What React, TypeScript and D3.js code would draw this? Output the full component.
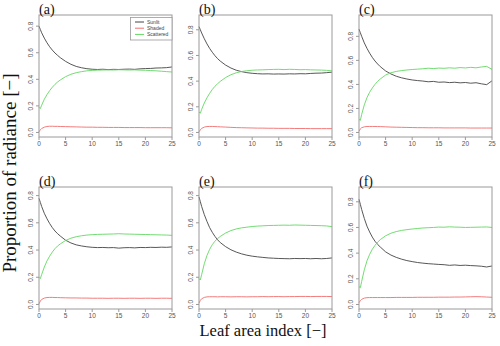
import React from "react";
import * as d3 from "d3";

const xs = [0, 0.25, 0.5, 1, 1.5, 2, 2.5, 3, 3.5, 4, 5, 6, 7, 8, 9, 10, 11, 12, 13, 14, 15, 16, 17, 18, 19, 20, 21, 22, 23, 24, 25];

const panelLabels = ["(a)", "(b)", "(c)", "(d)", "(e)", "(f)"];
const panelYMax = [0.85, 0.88, 0.94, 0.83, 0.83, 0.88];

const sunlitA = [0.80,0.775,0.75,0.71,0.675,0.645,0.62,0.598,0.58,0.563,0.535,0.513,0.497,0.487,0.48,0.476,0.474,0.476,0.473,0.475,0.474,0.476,0.477,0.475,0.479,0.481,0.482,0.485,0.486,0.488,0.493];
const scatteredA = [0.19,0.18,0.205,0.25,0.285,0.315,0.34,0.362,0.38,0.395,0.42,0.438,0.45,0.458,0.464,0.467,0.469,0.47,0.471,0.47,0.472,0.471,0.47,0.471,0.469,0.468,0.466,0.464,0.461,0.458,0.455];
const shadedA = [0.005,0.02,0.03,0.04,0.045,0.047,0.047,0.046,0.046,0.045,0.044,0.043,0.042,0.041,0.04,0.04,0.039,0.039,0.038,0.038,0.038,0.037,0.037,0.037,0.037,0.036,0.036,0.036,0.036,0.036,0.035];

const sunlitB = [0.825,0.80,0.775,0.73,0.69,0.655,0.625,0.598,0.575,0.556,0.525,0.502,0.485,0.474,0.466,0.461,0.458,0.456,0.457,0.455,0.456,0.455,0.457,0.456,0.458,0.457,0.46,0.462,0.463,0.466,0.47];
const scatteredB = [0.16,0.15,0.18,0.23,0.27,0.305,0.335,0.36,0.38,0.398,0.428,0.45,0.465,0.475,0.481,0.485,0.487,0.488,0.49,0.491,0.492,0.49,0.492,0.491,0.489,0.49,0.488,0.487,0.486,0.484,0.48];
const shadedB = [0.005,0.02,0.032,0.042,0.046,0.047,0.047,0.046,0.045,0.044,0.042,0.04,0.038,0.037,0.036,0.035,0.034,0.034,0.033,0.033,0.032,0.032,0.032,0.031,0.031,0.031,0.03,0.03,0.03,0.03,0.03];

const sunlitC = [0.86,0.83,0.80,0.745,0.70,0.66,0.625,0.595,0.57,0.548,0.512,0.487,0.468,0.455,0.445,0.437,0.432,0.428,0.422,0.425,0.418,0.42,0.415,0.418,0.413,0.416,0.41,0.414,0.405,0.398,0.43];
const scatteredC = [0.11,0.10,0.15,0.23,0.29,0.335,0.37,0.4,0.425,0.445,0.478,0.497,0.508,0.515,0.52,0.524,0.527,0.53,0.535,0.532,0.536,0.534,0.538,0.535,0.54,0.537,0.542,0.538,0.545,0.55,0.525];
const shadedC = [0.01,0.03,0.04,0.047,0.05,0.05,0.05,0.05,0.049,0.049,0.047,0.045,0.044,0.043,0.042,0.041,0.04,0.04,0.039,0.039,0.039,0.038,0.038,0.038,0.038,0.038,0.037,0.037,0.037,0.037,0.037];

const sunlitD = [0.78,0.75,0.72,0.67,0.63,0.595,0.565,0.54,0.52,0.503,0.472,0.452,0.438,0.43,0.424,0.42,0.418,0.419,0.417,0.418,0.414,0.417,0.418,0.416,0.419,0.418,0.42,0.419,0.421,0.42,0.423];
const scatteredD = [0.2,0.19,0.22,0.275,0.32,0.355,0.385,0.41,0.43,0.445,0.47,0.487,0.498,0.505,0.51,0.513,0.515,0.516,0.517,0.518,0.52,0.518,0.517,0.516,0.515,0.514,0.513,0.512,0.511,0.51,0.508];
const shadedD = [0.005,0.025,0.037,0.047,0.051,0.052,0.052,0.051,0.051,0.05,0.049,0.048,0.048,0.047,0.047,0.046,0.046,0.046,0.045,0.046,0.046,0.045,0.046,0.046,0.045,0.046,0.046,0.045,0.046,0.046,0.045];

const sunlitE = [0.79,0.755,0.72,0.66,0.61,0.565,0.53,0.5,0.475,0.455,0.425,0.402,0.385,0.372,0.362,0.355,0.35,0.346,0.342,0.34,0.338,0.337,0.336,0.338,0.337,0.338,0.336,0.338,0.336,0.338,0.342];
const scatteredE = [0.19,0.18,0.22,0.3,0.36,0.405,0.44,0.465,0.485,0.5,0.525,0.543,0.555,0.563,0.568,0.573,0.576,0.578,0.58,0.581,0.582,0.583,0.582,0.584,0.583,0.582,0.581,0.58,0.579,0.577,0.572];
const shadedE = [0.01,0.03,0.042,0.052,0.056,0.057,0.057,0.057,0.056,0.057,0.057,0.056,0.057,0.057,0.056,0.057,0.057,0.058,0.057,0.058,0.058,0.057,0.058,0.058,0.059,0.059,0.058,0.059,0.059,0.059,0.058];

const sunlitF = [0.82,0.78,0.74,0.67,0.61,0.565,0.525,0.493,0.468,0.448,0.41,0.385,0.367,0.353,0.342,0.334,0.327,0.322,0.318,0.315,0.312,0.31,0.305,0.308,0.304,0.306,0.303,0.301,0.298,0.292,0.3];
const scatteredF = [0.14,0.13,0.18,0.27,0.34,0.39,0.43,0.46,0.485,0.505,0.535,0.555,0.568,0.577,0.583,0.588,0.592,0.596,0.598,0.6,0.603,0.602,0.605,0.603,0.602,0.6,0.601,0.602,0.603,0.604,0.6];
const shadedF = [0.014,0.03,0.04,0.05,0.053,0.054,0.054,0.054,0.054,0.054,0.054,0.054,0.055,0.055,0.055,0.055,0.056,0.056,0.056,0.056,0.057,0.057,0.057,0.058,0.058,0.059,0.06,0.061,0.06,0.058,0.056];

const sunlit = [sunlitA, sunlitB, sunlitC, sunlitD, sunlitE, sunlitF];
const shaded = [shadedA, shadedB, shadedC, shadedD, shadedE, shadedF];
const scattered = [scatteredA, scatteredB, scatteredC, scatteredD, scatteredE, scatteredF];

const seriesNames = ["Sunlit", "Shaded", "Scattered"];
const seriesColors = ["#444444", "#f26d6d", "#62d862"];
const xTicks = [0, 5, 10, 15, 20, 25];
const yTicks = [0, 0.2, 0.4, 0.6, 0.8];
const yAxisTitle = "Proportion of radiance [\u2212]";
const xAxisTitle = "Leaf area index [\u2212]";

const colLeft = [39, 199, 359];
const rowTop = [15, 187];
const boxW = 133;
const boxH = 122;

function Panel({ idx }: { idx: number }) {
  const col = idx % 3;
  const row = Math.floor(idx / 3);
  const left = colLeft[col];
  const top = rowTop[row];
  const ymax = panelYMax[idx];
  const x = d3.scaleLinear().domain([0, 25]).range([left, left + boxW]);
  const y = d3
    .scaleLinear()
    .domain([-0.04 * ymax, 1.04 * ymax])
    .range([top + boxH, top]);
  const line = d3
    .line<number>()
    .x((_, i) => x(xs[i]))
    .y((d) => y(d));
  const data = [sunlit[idx], shaded[idx], scattered[idx]];
  const bottom = top + boxH;
  return (
    <g>
      {data.map((s, k) => (
        <path key={k} d={line(s) || ""} fill="none" stroke={seriesColors[k]} strokeWidth={0.9} />
      ))}
      <rect x={left} y={top} width={boxW} height={boxH} fill="none" stroke="#9a9a9a" strokeWidth={1} />
      {xTicks.map((t) => (
        <g key={t}>
          <line x1={x(t)} x2={x(t)} y1={bottom} y2={bottom + 3} stroke="#9a9a9a" />
          <text x={x(t)} y={bottom + 8.5} fontSize={6.5} textAnchor="middle" fill="#555" fontFamily="Liberation Sans, Arial, sans-serif">
            {t}
          </text>
        </g>
      ))}
      {yTicks.map((t) => (
        <g key={t}>
          <line x1={left - 3} x2={left} y1={y(t)} y2={y(t)} stroke="#9a9a9a" />
          <text
            transform={`translate(${left - 6.5},${y(t)}) rotate(-90)`}
            fontSize={6.5}
            textAnchor="middle"
            fill="#555"
            fontFamily="Liberation Sans, Arial, sans-serif"
          >
            {t.toFixed(1)}
          </text>
        </g>
      ))}
      <text x={left} y={top - 1.5} fontSize={14} fontFamily="Liberation Serif, Times New Roman, serif" fill="#111">
        {panelLabels[idx]}
      </text>
      {idx === 0 && (
        <g>
          <rect x={left + boxW - 41.5} y={top + 2.5} width={41.5} height={22.5} fill="#fff" stroke="#9a9a9a" strokeWidth={0.8} />
          {seriesNames.map((n, k) => (
            <g key={n}>
              <line x1={left + boxW - 37} x2={left + boxW - 28} y1={top + 7 + k * 6.2} y2={top + 7 + k * 6.2} stroke={seriesColors[k]} strokeWidth={1} />
              <text x={left + boxW - 25} y={top + 8.8 + k * 6.2} fontSize={5} fill="#444" fontFamily="Liberation Sans, Arial, sans-serif">
                {n}
              </text>
            </g>
          ))}
        </g>
      )}
    </g>
  );
}

export default function App() {
  return (
    <svg width={500} height={346} style={{ position: "absolute", left: 0, top: 0, background: "#fff" }}>
      <rect x={0} y={0} width={500} height={346} fill="#fff" />
      {[0, 1, 2, 3, 4, 5].map((i) => (
        <Panel key={i} idx={i} />
      ))}
      <text
        transform="translate(16,173) rotate(-90)"
        textAnchor="middle"
        fontSize={19}
        fontFamily="Liberation Serif, Times New Roman, serif"
        fill="#111"
      >
        {yAxisTitle}
      </text>
      <text x={263} y={336} textAnchor="middle" fontSize={16.5} fontFamily="Liberation Serif, Times New Roman, serif" fill="#111">
        {xAxisTitle}
      </text>
    </svg>
  );
}
